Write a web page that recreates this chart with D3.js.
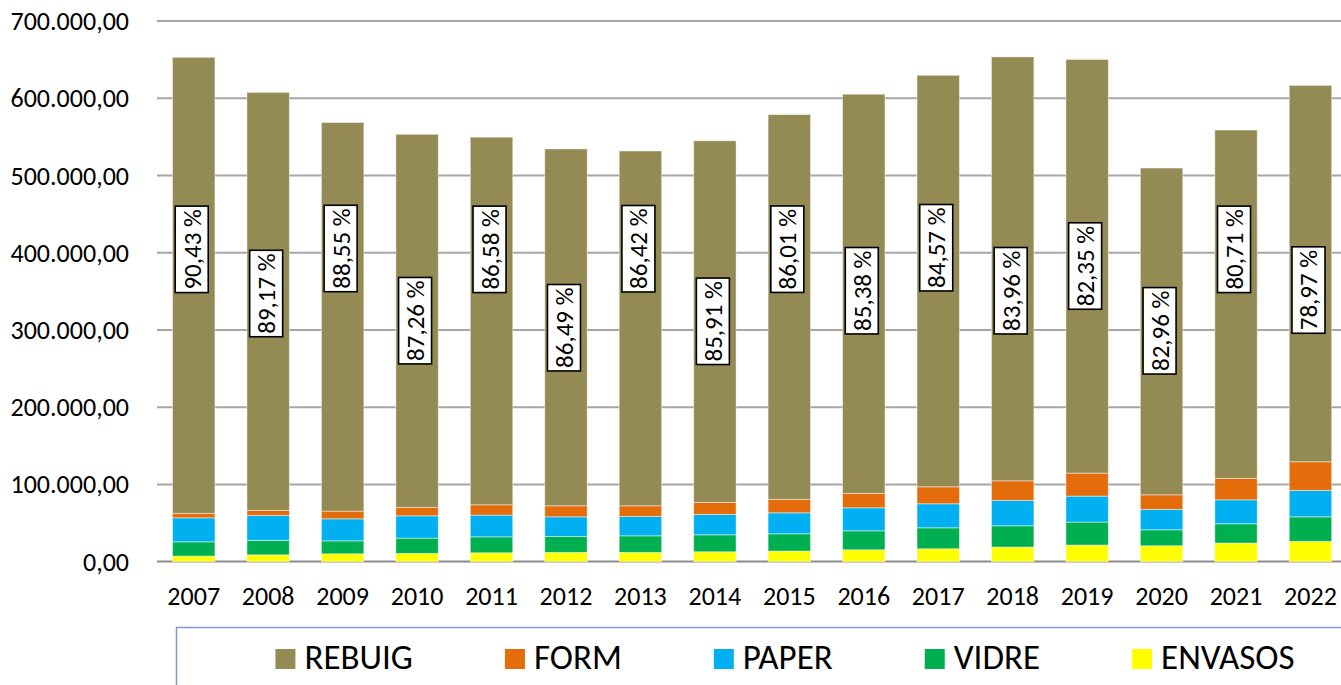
<!DOCTYPE html>
<html>
<head>
<meta charset="UTF-8">
<title>Residus per fracció 2007-2022</title>
<script src="https://d3js.org/d3.v7.min.js"></script>
<style>
  body { margin: 0; background: #fff; }
  svg { display: block; font-family: Carlito, Calibri, "Open Sans", sans-serif; }
</style>
</head>
<body>
<svg width="1341" height="685"></svg>
<script>
const years = ["2007","2008","2009","2010","2011","2012","2013","2014","2015","2016","2017","2018","2019","2020","2021","2022"];
const series = ["ENVASOS", "VIDRE", "PAPER", "FORM", "REBUIG"];   // stacking order, bottom -> top
const legendOrder = ["REBUIG", "FORM", "PAPER", "VIDRE", "ENVASOS"];
const colors = { REBUIG: "#948a54", FORM: "#e46c0a", PAPER: "#00b0f0", VIDRE: "#00b050", ENVASOS: "#ffff00" };

const envasos = [7100, 8800, 10100, 10600, 11400, 11900, 11900, 12700, 13600, 15300, 16600, 18800, 21400, 20500, 24000, 26200];
const vidre   = [18500, 18700, 16800, 19800, 20700, 20700, 21500, 22000, 22400, 24600, 27200, 27600, 29800, 20700, 25000, 31800];
const paper   = [31100, 32300, 28500, 28900, 28100, 25400, 25100, 26400, 27200, 29800, 31100, 32900, 33600, 26400, 31000, 34200];
const form    = [5800, 6500, 10000, 10900, 13400, 14300, 13800, 15600, 17400, 18600, 22000, 25400, 29800, 18900, 27800, 37100];
const rebuig  = [590600, 541400, 503300, 483200, 476100, 462100, 459500, 468300, 498300, 517000, 532900, 548900, 535700, 423200, 451100, 487400];

// data labels (share of REBUIG) and where they sit on the value axis
const pctLabels = ["90,43 %","89,17 %","88,55 %","87,26 %","86,58 %","86,49 %","86,42 %","85,91 %","86,01 %","85,38 %","84,57 %","83,96 %","82,35 %","82,96 %","80,71 %","78,97 %"];
const labelAt = [404400, 347200, 405500, 312000, 404400, 302900, 405200, 311200, 404600, 350800, 406500, 350800, 382800, 298900, 404400, 351700];

const yTicks = [0, 100000, 200000, 300000, 400000, 500000, 600000, 700000];

const rows = years.map((y, i) => ({
  year: y, ENVASOS: envasos[i], VIDRE: vidre[i], PAPER: paper[i], FORM: form[i], REBUIG: rebuig[i]
}));

const svg = d3.select("svg");
const fmt = d3.formatLocale({ decimal: ",", thousands: ".", grouping: [3], currency: ["", ""] }).format(",.2f");

const x = d3.scaleBand().domain(years).range([156.5, 1347.7]).paddingInner(0.43).paddingOuter(0.215);
const y = d3.scaleLinear().domain([0, 700000]).range([561.6, 21.1]);

// gridlines
svg.append("g")
  .selectAll("line")
  .data(yTicks)
  .join("line")
  .attr("x1", 157).attr("x2", 1341)
  .attr("y1", d => y(d)).attr("y2", d => y(d))
  .attr("stroke", d => d === 0 ? "#8c8c8c" : "#a6a6a6")
  .attr("stroke-width", 2);

// y tick labels
svg.append("g")
  .selectAll("text")
  .data(yTicks)
  .join("text")
  .attr("x", 129)
  .attr("y", d => y(d))
  .attr("dy", "0.35em")
  .attr("text-anchor", "end")
  .attr("font-size", 26)
  .attr("fill", "#000")
  .text(d => fmt(d));

// stacked bars
const stacked = d3.stack().keys(series)(rows);
svg.append("g")
  .selectAll("g")
  .data(stacked)
  .join("g")
  .attr("fill", d => colors[d.key])
  .selectAll("rect")
  .data(d => d)
  .join("rect")
  .attr("x", d => x(d.data.year))
  .attr("width", x.bandwidth())
  .attr("y", d => y(d[1]))
  .attr("height", d => y(d[0]) - y(d[1]))
  .attr("stroke", "rgba(255,255,255,0.45)")
  .attr("stroke-width", 1);

// year labels
svg.append("g")
  .selectAll("text")
  .data(years)
  .join("text")
  .attr("x", d => x(d) + x.bandwidth() / 2)
  .attr("y", 605)
  .attr("text-anchor", "middle")
  .attr("font-size", 26)
  .text(d => d);

// percentage labels, rotated, in white boxes
const lab = svg.append("g")
  .selectAll("g")
  .data(years)
  .join("g")
  .attr("transform", (d, i) => `translate(${x(d) + x.bandwidth() / 2 - 2},${y(labelAt[i])}) rotate(-90)`);

lab.append("rect").attr("class", "box");
lab.append("text")
  .attr("text-anchor", "middle")
  .attr("dy", "0.36em")
  .attr("font-size", 25)
  .text((d, i) => pctLabels[i]);
lab.each(function() {
  const g = d3.select(this);
  const w = g.select("text").node().getComputedTextLength() + 6;
  g.select("rect")
    .attr("x", -w / 2).attr("y", -16.5)
    .attr("width", w).attr("height", 33)
    .attr("fill", "#fff").attr("stroke", "#000").attr("stroke-width", 1.6);
});

// legend box
svg.append("rect")
  .attr("x", 176.5).attr("y", 627.5)
  .attr("width", 1200).attr("height", 100)
  .attr("fill", "#fff")
  .attr("stroke", "#7f9cc4")
  .attr("stroke-width", 1.5);

const leg = svg.append("g");
const items = leg.selectAll("g")
  .data(legendOrder)
  .join("g");
items.append("rect")
  .attr("width", 20).attr("height", 20)
  .attr("y", 649)
  .attr("fill", d => colors[d]);
items.append("text")
  .attr("x", 29)
  .attr("y", 669)
  .attr("font-size", 35)
  .text(d => d);

let cx = 0;
const gap = 92;
items.each(function() {
  const g = d3.select(this);
  g.attr("transform", `translate(${cx},0)`);
  cx += 29 + g.select("text").node().getComputedTextLength() + gap;
});
const total = cx - gap;
leg.attr("transform", `translate(${785 - total / 2},0)`);
</script>
</body>
</html>
